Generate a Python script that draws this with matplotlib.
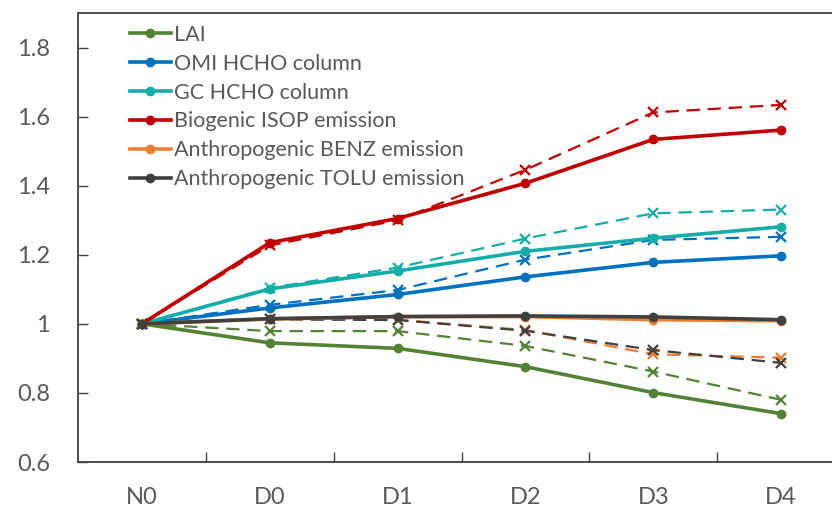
import numpy as np
import matplotlib
matplotlib.use("Agg")
import matplotlib.pyplot as plt

plt.rcParams['font.family'] = ['Lato', 'DejaVu Sans']

# categories along the x axis
cats = ["N0", "D0", "D1", "D2", "D3", "D4"]

# solid lines (circle markers)
lai = [1.0, 0.945, 0.929, 0.876, 0.801, 0.740]
omi = [1.0, 1.046, 1.085, 1.136, 1.178, 1.197]
gc = [1.0, 1.101, 1.153, 1.210, 1.248, 1.281]
isop = [1.0, 1.235, 1.305, 1.407, 1.534, 1.561]
benz = [1.0, 1.014, 1.021, 1.021, 1.012, 1.009]
tolu = [1.0, 1.015, 1.021, 1.023, 1.020, 1.012]

# dashed lines (x markers)
lai_d = [1.0, 0.979, 0.979, 0.936, 0.862, 0.780]
omi_d = [1.0, 1.055, 1.098, 1.186, 1.243, 1.252]
gc_d = [1.0, 1.104, 1.163, 1.247, 1.320, 1.331]
isop_d = [1.0, 1.227, 1.300, 1.446, 1.612, 1.634]
benz_d = [1.0, 1.014, 1.012, 0.982, 0.912, 0.902]
tolu_d = [1.0, 1.013, 1.011, 0.980, 0.924, 0.887]

labels = ["LAI", "OMI HCHO column", "GC HCHO column", "Biogenic ISOP emission",
          "Anthropogenic BENZ emission", "Anthropogenic TOLU emission"]
colors = ["#548235", "#0070C0", "#14ADA8", "#C00000", "#ED7D31", "#404040"]

solid = [lai, omi, gc, isop, benz, tolu]
dashed = [lai_d, omi_d, gc_d, isop_d, benz_d, tolu_d]

fig = plt.figure(figsize=(8.32, 5.11), dpi=100)
W, H = 832, 511
# axes run past the right edge of the picture, like the cropped original
ax = fig.add_axes([78 / W, (H - 462) / H, 767 / W, 449 / H])

x = np.arange(len(cats))
for vals, c in zip(dashed, colors):
    ax.plot(x, vals, color=c, lw=1.6, ls=(0, (6, 3.5)), marker='x', ms=7, mew=1.6)
handles = []
for vals, c, lab in zip(solid, colors, labels):
    h, = ax.plot(x, vals, color=c, lw=2.6, marker='o', ms=6, label=lab)
    handles.append(h)

ax.set_xlim(-0.5, 5.5)
ax.set_ylim(0.6, 1.9)
ax.set_yticks([0.6, 0.8, 1.0, 1.2, 1.4, 1.6, 1.8])
ax.set_yticklabels(["0.6", "0.8", "1", "1.2", "1.4", "1.6", "1.8"])
ax.set_xticks(x)
ax.set_xticklabels(cats)
ax.set_xticks(np.arange(0.5, 5, 1), minor=True)
ax.tick_params(axis='x', which='major', length=0, pad=18, labelsize=17, colors='#595959')
ax.tick_params(axis='x', which='minor', length=7, direction='in', color='#404040', width=1)
ax.tick_params(axis='y', which='major', length=7, direction='in', pad=20, labelsize=17,
               labelcolor='#595959', color='#404040', width=1)
for s in ax.spines.values():
    s.set_color('#404040')
    s.set_linewidth(1.3)

leg = ax.legend(handles=handles, loc='upper left', bbox_to_anchor=((130 - 78) / 767, (462 - 25) / 449),
                frameon=False, fontsize=15.5, handlelength=1.9, handletextpad=0.15,
                labelspacing=0.41, borderpad=0, borderaxespad=0)
for t in leg.get_texts():
    t.set_color('#595959')

fig.savefig("out.png", dpi=100)
